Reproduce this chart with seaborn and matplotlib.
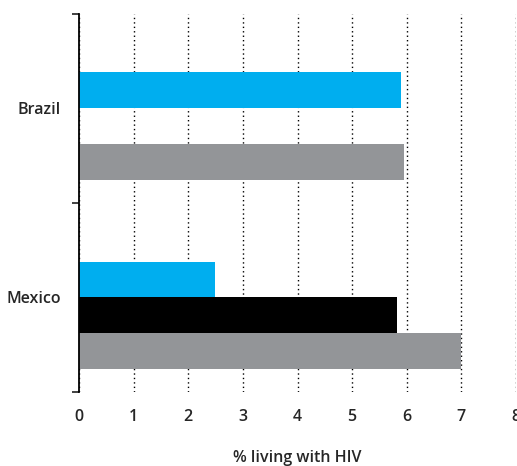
import seaborn as sns
import matplotlib.pyplot as plt
import matplotlib.ticker as mticker
import pandas as pd
import numpy as np

sns.set_style("white")
plt.rcParams['font.family'] = ['Open Sans', 'DejaVu Sans']

# data
countries = ['Brazil', 'Mexico']
series = ['Unused', 'Series 1', 'Series 2', 'Series 3']
unused_vals = [np.nan, np.nan]
blue_vals = [5.90, 2.49]
black_vals = [np.nan, 5.82]
gray_vals = [5.95, 7.00]
x_ticks = [0, 1, 2, 3, 4, 5, 6, 7, 8]

colors = {'Unused': '#ffffff', 'Series 1': '#00aeef',
          'Series 2': '#000000', 'Series 3': '#939598'}

rows = []
for name, vals in zip(series, [unused_vals, blue_vals, black_vals, gray_vals]):
    for c, v in zip(countries, vals):
        rows.append({'Country': c, 'Series': name, 'Value': v})
df = pd.DataFrame(rows)

fig = plt.figure(figsize=(5.17, 4.66), dpi=100)
ax = fig.add_axes([79 / 517, 1 - 392 / 466, 437 / 517, (392 - 13.5) / 466])

sns.barplot(data=df, y='Country', x='Value', hue='Series', hue_order=series,
            order=countries, palette=colors, orient='h', width=0.755,
            errorbar=None, legend=False, saturation=1, linewidth=0,
            ax=ax, zorder=2)

ax.set_xlim(0, 8)
ax.set_ylim(1.5, -0.5)
ax.set_xticks(x_ticks)
ax.set_xticklabels([str(t) for t in x_ticks])
ax.xaxis.grid(True, linestyle=(0, (1, 2.2)), color='#000000', linewidth=1.0, zorder=0)
ax.yaxis.grid(False)
ax.set_axisbelow(True)

for s in ['top', 'right', 'bottom']:
    ax.spines[s].set_visible(False)
ax.spines['left'].set_color('#000000')
ax.spines['left'].set_linewidth(1.3)

ax.yaxis.set_minor_locator(mticker.FixedLocator([-0.5, 0.5, 1.5]))
ax.tick_params(axis='y', which='minor', length=5, width=1.3, color='#333333', left=True)
ax.tick_params(axis='y', which='major', length=0, pad=13, labelsize=11.5)
ax.tick_params(axis='x', length=0, pad=12, labelsize=11.5)
for lab in ax.get_xticklabels() + ax.get_yticklabels():
    lab.set_fontweight('semibold')

ax.set_ylabel('')
ax.set_xlabel('% living with HIV', fontsize=11.5, fontweight='semibold', labelpad=18)

fig.savefig('out.png', dpi=100)
